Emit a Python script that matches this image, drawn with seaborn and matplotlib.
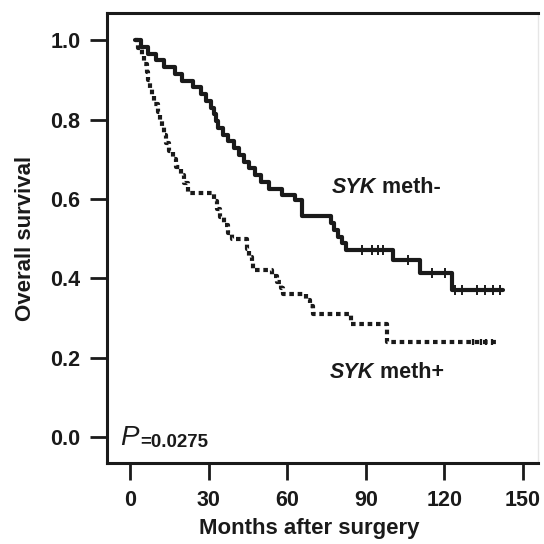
import matplotlib
matplotlib.use("Agg")
import matplotlib.pyplot as plt
import seaborn as sns

# Kaplan-Meier step data (months, survival)
meth_neg_time = [2, 4, 7, 10, 13, 17, 20, 24, 27, 29, 31, 32, 32.8, 33.5, 35.5, 37.5,
                 39.5, 41.5, 43.5, 45.5, 47.5, 50, 53, 58, 63, 65.5, 76.5, 78, 79.5,
                 81, 82.5, 100.5, 110.5, 123, 142.4]
meth_neg_surv = [1.0, 0.983, 0.966, 0.949, 0.932, 0.915, 0.898, 0.881, 0.864, 0.847,
                 0.830, 0.813, 0.796, 0.779, 0.762, 0.745, 0.728, 0.711, 0.694, 0.677,
                 0.660, 0.643, 0.626, 0.609, 0.598, 0.557, 0.540, 0.522, 0.505, 0.488,
                 0.471, 0.446, 0.413, 0.370, 0.370]
meth_neg_cens_time = [88.5, 92.5, 94.5, 96.5, 106, 115.3, 120.2,
                      124, 126.7, 132.4, 135.5, 138.5, 141.2]
meth_neg_cens_surv = [0.471, 0.471, 0.471, 0.471, 0.446, 0.413, 0.413,
                      0.370, 0.370, 0.370, 0.370, 0.370, 0.370]

meth_pos_time = [2, 3, 4.5, 5.5, 6.3, 7, 7.6, 8.2, 9, 10.7, 11.5, 12.2, 13, 13.6, 15,
                 16.4, 17.5, 19.5, 20.5, 22, 32, 33.2, 34.5, 36, 37.5, 39, 44.5, 45.5,
                 46.5, 47, 54, 56, 57.5, 58.5, 67, 68.5, 70, 84.5, 98, 140]
meth_pos_surv = [1.0, 0.98, 0.96, 0.94, 0.92, 0.90, 0.88, 0.86, 0.84, 0.82, 0.80, 0.78,
                 0.76, 0.74, 0.72, 0.70, 0.68, 0.66, 0.64, 0.615, 0.595, 0.575, 0.555,
                 0.535, 0.515, 0.50, 0.475, 0.455, 0.44, 0.42, 0.405, 0.39, 0.375,
                 0.36, 0.345, 0.33, 0.31, 0.285, 0.24, 0.24]
meth_pos_cens_time = [131, 134, 136, 138]
meth_pos_cens_surv = [0.24, 0.24, 0.24, 0.24]

x_ticks = [0, 30, 60, 90, 120, 150]
y_ticks = [0.0, 0.2, 0.4, 0.6, 0.8, 1.0]

sns.set_theme(style="white")
plt.rcParams["font.family"] = ["Liberation Sans", "DejaVu Sans"]

fig = plt.figure(figsize=(5.44, 5.44), dpi=100)
ax = fig.add_axes([0.1967, 0.148, 0.7923, 0.828])

ink = "#1a1a1a"
sns.lineplot(x=meth_neg_time, y=meth_neg_surv, estimator=None, sort=False,
             drawstyle="steps-post", color=ink, linewidth=3, ax=ax)
sns.lineplot(x=meth_pos_time, y=meth_pos_surv, estimator=None, sort=False,
             drawstyle="steps-post", color=ink, linewidth=3,
             linestyle=(0, (1.1, 0.9)), ax=ax)
sns.scatterplot(x=meth_neg_cens_time, y=meth_neg_cens_surv, marker="|", s=50,
                color=ink, linewidth=1.4, ax=ax)
sns.scatterplot(x=meth_pos_cens_time, y=meth_pos_cens_surv, marker="|", s=25,
                color=ink, linewidth=1.6, ax=ax)

ax.set_xlim(-8.8, 155.7)
ax.set_ylim(-0.066, 1.068)
ax.set_xticks(x_ticks)
ax.set_yticks(y_ticks)
ax.set_xticklabels([str(v) for v in x_ticks])
ax.set_yticklabels([f"{v:.1f}" for v in y_ticks])
ax.tick_params(axis="both", direction="out", length=12, width=2, color=ink,
               labelsize=15.5, labelcolor=ink, pad=7, left=True, bottom=True)
for lab in ax.get_xticklabels() + ax.get_yticklabels():
    lab.set_fontweight("bold")

for side in ["left", "bottom", "top"]:
    ax.spines[side].set_color(ink)
    ax.spines[side].set_linewidth(2.2)
ax.spines["right"].set_color("#e6e6e6")
ax.spines["right"].set_linewidth(1)

ax.set_xlabel("Months after surgery", fontsize=16, fontweight="bold", color=ink)
ax.set_ylabel("Overall survival", fontsize=16, fontweight="bold", color=ink)
ax.xaxis.set_label_coords(0.47, -0.12)
ax.yaxis.set_label_coords(-0.164, 0.5)

t1 = ax.text(77, 0.63, "SYK", fontsize=15.5, fontweight="bold", style="italic",
             color=ink, va="center", ha="left")
ax.annotate(" meth-", xy=(1, 0), xycoords=t1, va="bottom", ha="left",
            fontsize=15.5, fontweight="bold", color=ink)
t2 = ax.text(76.3, 0.164, "SYK", fontsize=15.5, fontweight="bold", style="italic",
             color=ink, va="center", ha="left")
ax.annotate(" meth+", xy=(1, 0), xycoords=t2, va="bottom", ha="left",
            fontsize=15.5, fontweight="bold", color=ink)

t3 = ax.text(-3.8, -0.02, "P", fontsize=20, style="italic", color=ink,
             va="baseline", ha="left")
ax.annotate("=0.0275", xy=(1, 0), xycoords=t3, xytext=(1, 0),
            textcoords="offset points", va="bottom", ha="left",
            fontsize=13.5, fontweight="bold", color=ink)

fig.savefig("out.png", dpi=100, facecolor="white")
